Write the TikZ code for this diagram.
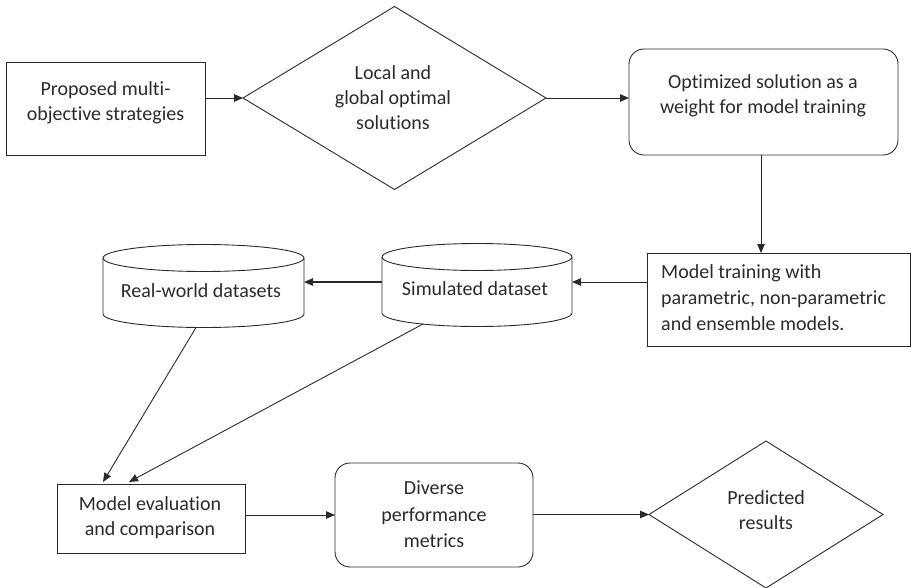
\documentclass[tikz,border=0pt]{standalone}
\usepackage{fontspec}
\setmainfont{Carlito}[Ligatures=CommonOff]
\usetikzlibrary{shapes.geometric,arrows.meta,calc}
\definecolor{ink}{HTML}{2A2A2A}
\begin{document}
\begin{tikzpicture}[x=1pt,y=-1pt,
  line/.style={draw=ink, line width=0.9pt},
  arr/.style={line, -{Triangle[length=9pt,width=7.5pt]}},
  shp/.style={draw=ink, line width=0.9pt, inner sep=0pt, outer sep=0pt},
  hold/.style={inner sep=0pt, outer sep=0pt},
  txt/.style={font=\fontsize{20}{25}\selectfont, text=ink, align=center, inner sep=0pt}]
\useasboundingbox (0,0) rectangle (912,588);

% top row
\node[shp, rectangle, minimum width=199pt, minimum height=93pt] (b1) at (105.5,108.5) {};
\node[txt] (b1t) at (105.5,102.5) {Proposed multi-\\objective strategies};

\node[shp, diamond, minimum width=303pt, minimum height=183pt] (d1) at (394.5,98) {};
\node[txt] (d1t) at (393,97.5) {Local and\\global optimal\\solutions};

\node[shp, rectangle, rounded corners=15pt, minimum width=269pt, minimum height=106pt] (r3) at (763.5,102) {};
\node[txt] (r3t) at (763,95.3) {Optimized solution as a\\weight for model training};

% middle row
\node[shp, rectangle, minimum width=263pt, minimum height=93pt] (b4) at (778.5,299.5) {};
\node[txt, align=left, anchor=west, font=\fontsize{20}{26}\selectfont] (b4t) at (661,298) {Model training with\\parametric, non-parametric\\and ensemble models.};

\node[hold, minimum width=190pt, minimum height=83pt] (sim) at (477,285.5) {};
\draw[line] (sim.west |- 0,257) -- (sim.west |- 0,313)
  arc[start angle=180, end angle=360, x radius=95pt, y radius=13.5pt] -- (sim.east |- 0,257);
\draw[line] (477,257) ellipse [x radius=95pt, y radius=13.5pt];
\node[txt] (simt) at (475,289) {Simulated dataset};

\node[hold, minimum width=201pt, minimum height=83pt] (real) at (203.5,286) {};
\draw[line] (real.west |- 0,258) -- (real.west |- 0,314)
  arc[start angle=180, end angle=360, x radius=100.5pt, y radius=13.5pt] -- (real.east |- 0,258);
\draw[line] (203.5,258) ellipse [x radius=100.5pt, y radius=13.5pt];
\node[txt] (realt) at (201,291) {Real-world datasets};

% bottom row
\node[shp, rectangle, minimum width=188pt, minimum height=69pt] (b5) at (151,518.5) {};
\node[txt] (b5t) at (150,517.75) {Model evaluation\\and comparison};

\node[shp, rectangle, rounded corners=15pt, minimum width=198pt, minimum height=104pt] (r6) at (434,515) {};
\node[txt, font=\fontsize{20}{26.5}\selectfont] (r6t) at (434,514.5) {Diverse\\performance\\metrics};

\node[shp, diamond, minimum width=234pt, minimum height=147pt] (d7) at (766,514.5) {};
\node[txt] (d7t) at (766,510.5) {Predicted\\results};

% connectors
\coordinate (row) at (0,282);
\draw[arr] (b1.east |- d1.west) -- (d1.west);
\draw[arr] (d1.east) -- (d1.east -| r3.west);
\draw[arr] ([xshift=-2.5pt]r3.south) -- ([xshift=-2.5pt]r3.south |- b4.north);
\draw[arr] (b4.west |- row) -- (sim.east |- row);
\draw[arr, line width=1.3pt] (sim.west |- row) -- (real.east |- row);
\draw[arr] ([xshift=-7.5pt]real.south) -- ([xshift=-48pt,yshift=2pt]b5.north);
\draw[arr] ([xshift=-54pt,yshift=3pt]sim.south) -- ([xshift=-22pt,yshift=2pt]b5.north);
\draw[arr] (b5.east |- r6.west) -- (r6.west);
\draw[arr] (r6.east |- d7.west) -- (d7.west);
\end{tikzpicture}
\end{document}
